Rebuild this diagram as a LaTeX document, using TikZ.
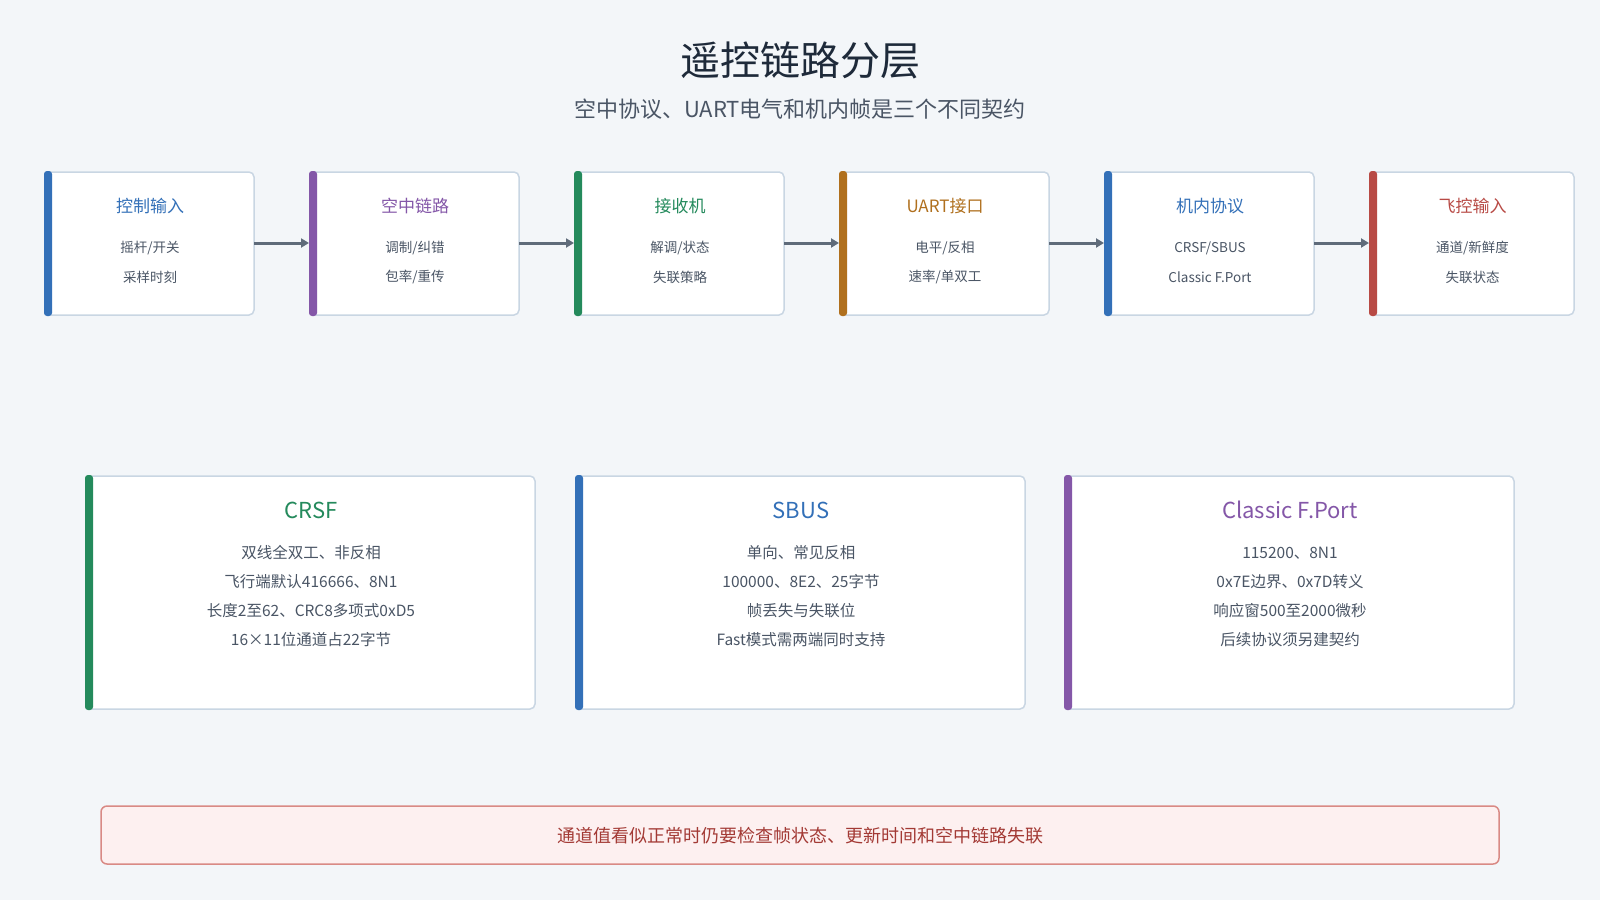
\documentclass[tikz,border=0pt]{standalone}
\usepackage{fontspec}
\setmainfont{Noto Sans CJK SC}
\usetikzlibrary{arrows.meta}
\definecolor{bg}{HTML}{F3F6F9}
\definecolor{bd}{HTML}{C9D6E3}
\definecolor{cb}{HTML}{3370B8}
\definecolor{cp}{HTML}{8457A8}
\definecolor{cg}{HTML}{248A5C}
\definecolor{co}{HTML}{B0701E}
\definecolor{cr}{HTML}{B84A45}
\definecolor{tx}{HTML}{4A5565}
\definecolor{ttl}{HTML}{1E2A3A}
\definecolor{arr}{HTML}{5F6B7A}
\definecolor{nf}{HTML}{FDF0F0}
\definecolor{nb}{HTML}{D98A85}
\definecolor{nt}{HTML}{A33A35}
\tikzset{
 card/.style={draw=bd,line width=1.5pt,fill=white,rounded corners=5pt},
 bar/.style={fill=#1,rounded corners=3pt},
 ttlA/.style={font=\fontsize{17}{20}\selectfont},
 ln/.style={text=tx,font=\fontsize{13.5}{16}\selectfont},
 ttlB/.style={font=\fontsize{22}{26}\selectfont},
 lnB/.style={text=tx,font=\fontsize{15.5}{18}\selectfont},
 flow/.style={draw=arr,line width=3pt,-{Triangle[length=8pt,width=9pt]}}
}
\newcommand\topcard[7]{%
 \pgfmathsetmacro\xl{46+265*#1}
 \pgfmathsetmacro\cw{#7}
 \draw[card] (\xl,172) rectangle ++(\cw,143);
 \fill[bar=#2] (\xl-2,171) rectangle ++(8,145);
 \node[ttlA,text=#2] (ct#1) at (\xl+\cw/2,206) {#3};
 \node[ln] (ca#1) at (\xl+\cw/2,248) {#4};
 \node[ln] (cb#1) at (\xl+\cw/2,277) {#5};
 \coordinate (inp#6) at (\xl-2,243);
 \coordinate (out#6) at (\xl+\cw,243);
}
\newcommand\botcard[8]{%
 \pgfmathsetmacro\xl{#1}
 \draw[card] (\xl,476) rectangle ++(448,233);
 \fill[bar=#2] (\xl-2,475) rectangle ++(8,235);
 \node[ttlB,text=#2] (bt#3) at (\xl+224,510) {#4};
 \node[lnB] (bx#3) at (\xl+224,553) {#5};
 \node[lnB] (by#3) at (\xl+224,582) {#6};
 \node[lnB] (bz#3) at (\xl+224,611) {#7};
 \node[lnB] (bw#3) at (\xl+224,640) {#8};
}
\begin{document}
\begin{tikzpicture}[x=1pt,y=-1pt]
\useasboundingbox (0,0) rectangle (1600,900);
\fill[bg] (0,0) rectangle (1600,900);
\node[text=ttl,font=\fontsize{40}{46}\selectfont] (title) at (800,60) {遥控链路分层};
\node[text=tx,font=\fontsize{22}{26}\selectfont] (sub) at (800,109) {空中协议、UART电气和机内帧是三个不同契约};
\topcard{0}{cb}{控制输入}{摇杆/开关}{采样时刻}{A}{208}
\topcard{1}{cp}{空中链路}{调制/纠错}{包率/重传}{B}{208}
\topcard{2}{cg}{接收机}{解调/状态}{失联策略}{C}{208}
\topcard{3}{co}{UART接口}{电平/反相}{速率/单双工}{D}{208}
\topcard{4}{cb}{机内协议}{CRSF/SBUS}{Classic F.Port}{E}{208}
\topcard{5}{cr}{飞控输入}{通道/新鲜度}{失联状态}{F}{203}
\draw[flow] (outA) -- (inpB);
\draw[flow] (outB) -- (inpC);
\draw[flow] (outC) -- (inpD);
\draw[flow] (outD) -- (inpE);
\draw[flow] (outE) -- (inpF);
\botcard{87}{cg}{1}{CRSF}{双线全双工、非反相}{飞行端默认416666、8N1}{长度2至62、CRC8多项式0xD5}{16×11位通道占22字节}
\botcard{577}{cb}{2}{SBUS}{单向、常见反相}{100000、8E2、25字节}{帧丢失与失联位}{Fast模式需两端同时支持}
\botcard{1066}{cp}{3}{Classic F.Port}{115200、8N1}{0x7E边界、0x7D转义}{响应窗500至2000微秒}{后续协议须另建契约}
\draw[fill=nf,draw=nb,line width=1.5pt,rounded corners=6pt] (101,806) rectangle (1499,864);
\node[text=nt,font=\fontsize{18}{22}\selectfont] (note) at (800,836) {通道值看似正常时仍要检查帧状态、更新时间和空中链路失联};
\end{tikzpicture}
\end{document}
